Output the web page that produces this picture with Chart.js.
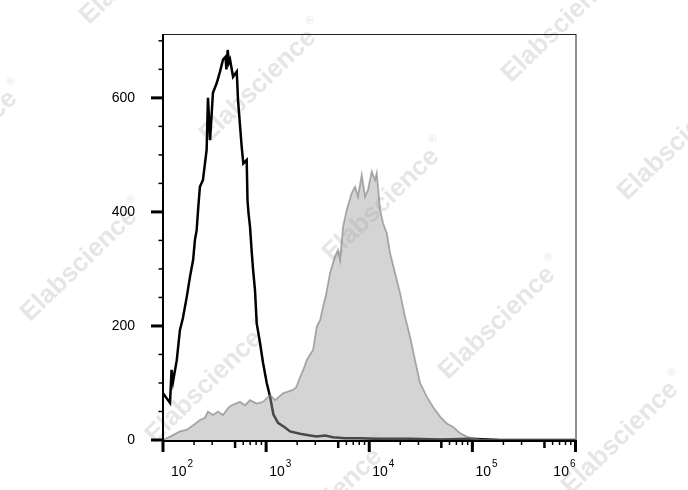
<!DOCTYPE html>
<html lang="en">

<head>
  <meta charset="UTF-8" />
  <title>Histogram</title>
  <style>
    body { margin: 0; background: #fff; }
    canvas { display: block; }
  </style>
</head>

<body>
  <canvas id="histChart" width="688" height="490"></canvas>

  <script src="https://cdn.jsdelivr.net/npm/chart.js"></script>
  <script>
    // black outline histogram (control)
    const controlX = [100, 117, 121, 125, 136, 146, 156, 170, 183, 196, 204, 212, 220, 228, 244, 265, 273, 286, 305, 332,
      357, 382, 404, 412, 424, 436, 447, 478, 519, 534, 579, 601, 648, 660, 675, 698, 725, 746, 780, 810,
      873, 934, 1014, 1092, 1175, 1304, 1524, 1706, 2132, 2666, 3096, 3724, 4457, 5822, 8147, 11650, 17780, 24890, 48640, 95060,
      185800, 1000000];
    const controlCount = [82, 65, 123, 102, 140, 193, 214, 251, 287, 316, 351, 368, 409, 444, 456, 509, 600, 526, 609, 626,
      646, 667, 672, 650, 684, 662, 667, 637, 646, 596, 515, 485, 491, 420, 398, 374, 330, 300, 263, 205,
      170, 135, 100, 76, 45, 30, 22, 15, 11, 8, 6, 8, 5, 3, 3, 2, 2, 2, 1, 2,
      0, 0];

    // grey filled histogram (stained)
    const stainedX = [100, 117, 146, 170, 196, 228, 255, 273, 305, 341, 382, 427, 463, 558, 624, 698, 810, 934, 1092, 1220,
      1458, 1706, 1825, 1951, 2132, 2312, 2477, 2666, 2853, 3096, 3336, 3567, 3813, 4169, 4659,
      4981, 5212, 5572, 6049, 6765, 7283, 7786, 8455, 9103, 9732, 10570, 11380, 11820, 12730, 13610, 14790, 15920, 17790, 19900, 22240,
      24880, 27810, 31100, 36120, 41590, 48640, 56470, 65030, 76040, 88330, 101600, 118900, 185800, 1000000];
    const stainedCount = [0, 6, 15, 18, 26, 35, 39, 50, 44, 50, 44, 56, 61, 67, 61, 70, 64, 67, 79, 70,
      82, 86, 88, 92, 110, 125, 140, 150, 158, 199, 210, 234, 255, 293, 322,
      333, 316, 374, 404, 433, 444, 427, 465, 427, 439, 471, 456, 468, 404, 380, 363, 328, 293, 258, 216,
      181, 140, 100, 76, 58, 41, 29, 23, 12, 6, 3, 1, 0, 0];

    // axis ticks
    const xDecades = [1e2, 1e3, 1e4, 1e5, 1e6];
    const xExponents = ['2', '3', '4', '5', '6'];
    const xMinor = [2, 3, 5, 6, 7, 8, 9];
    const yLabels = [0, 200, 400, 600];
    const yTicks = [0, 50, 100, 150, 200, 250, 300, 350, 400, 450, 500, 550, 600, 650, 700];

    const FONT = '"Liberation Sans", Arial, sans-serif';

    // where the faint watermark text sits
    const marks = [[138, -32], [258, 86], [381, 205], [497, 323], [620, 438],
      [-41, 147], [79, 265], [204, 387], [324, 505], [560, 26], [676, 144]];

    const axisPlugin = {
      id: 'axisPlugin',
      beforeDraw(chart) {
        const ctx = chart.ctx;
        marks.forEach(([cx, cy]) => {
          ctx.save();
          ctx.translate(cx, cy);
          ctx.rotate(-44 * Math.PI / 180);
          ctx.fillStyle = '#e6e6e6';
          ctx.font = 'bold 26px ' + FONT;
          ctx.textAlign = 'center';
          ctx.textBaseline = 'middle';
          ctx.fillText('Elabscience', 0, 0);
          const w = ctx.measureText('Elabscience').width;
          ctx.font = '11px ' + FONT;
          ctx.fillText('®', w / 2 + 8, -11);
          ctx.restore();
        });
      },
      afterDraw(chart) {
        const ctx = chart.ctx;
        const { left, right, top, bottom } = chart.chartArea;
        const xs = chart.scales.x;
        const ys = chart.scales.y;
        ctx.save();

        // frame
        ctx.strokeStyle = '#222';
        ctx.lineWidth = 1;
        ctx.strokeRect(left + 0.5, top + 0.5, right - left, bottom - top);
        ctx.strokeStyle = '#000';
        ctx.lineWidth = 2;
        ctx.beginPath();
        ctx.moveTo(left, top);
        ctx.lineTo(left, bottom + 1);
        ctx.lineTo(right, bottom + 1);
        ctx.stroke();

        // y tick marks
        yTicks.forEach(v => {
          const py = ys.getPixelForValue(v);
          const major = yLabels.includes(v);
          ctx.lineWidth = major ? 3 : 1.5;
          ctx.beginPath();
          ctx.moveTo(left - (major ? 12 : 4.5), py);
          ctx.lineTo(left, py);
          ctx.stroke();
        });

        // x tick marks
        xDecades.forEach((d, i) => {
          let px = xs.getPixelForValue(d);
          ctx.lineWidth = 3;
          ctx.beginPath();
          ctx.moveTo(px, bottom);
          ctx.lineTo(px, bottom + 12);
          ctx.stroke();
          if (i < xDecades.length - 1) {
            xMinor.forEach(m => {
              const mx = xs.getPixelForValue(d * m);
              ctx.lineWidth = m === 5 ? 2.5 : 1.5;
              ctx.beginPath();
              ctx.moveTo(mx, bottom);
              ctx.lineTo(mx, bottom + (m === 5 ? 8 : 5));
              ctx.stroke();
            });
          }

          // label 10^n
          ctx.fillStyle = '#000';
          ctx.textBaseline = 'alphabetic';
          ctx.textAlign = 'left';
          ctx.font = '14px ' + FONT;
          const baseW = ctx.measureText('10').width;
          ctx.font = '10px ' + FONT;
          const supW = ctx.measureText(xExponents[i]).width;
          let lx = px + 3;
          if (lx < left + 8) lx = left + 8;
          if (lx + baseW + supW + 1 > right) lx = right - baseW - supW - 1;
          ctx.font = '14px ' + FONT;
          ctx.fillText('10', lx, 476);
          ctx.font = '10px ' + FONT;
          ctx.fillText(xExponents[i], lx + baseW + 1, 467);
        });

        ctx.restore();
      }
    };

    const ctx = document.getElementById('histChart').getContext('2d');
    const histChart = new Chart(ctx, {
      type: 'line',
      data: {
        datasets: [
          {
            label: 'Stained',
            data: stainedX.map((x, i) => ({ x: x, y: stainedCount[i] })),
            borderColor: 'rgba(120, 120, 120, 0.6)',
            borderWidth: 1.8,
            backgroundColor: 'rgba(160, 160, 160, 0.45)',
            fill: 'origin',
            pointRadius: 0,
            tension: 0,
            order: 1
          },
          {
            label: 'Control',
            data: controlX.map((x, i) => ({ x: x, y: controlCount[i] })),
            borderColor: '#000',
            borderWidth: 2.5,
            fill: false,
            pointRadius: 0,
            tension: 0,
            order: 2
          }
        ]
      },
      options: {
        responsive: false,
        animation: false,
        devicePixelRatio: 1,
        layout: { padding: { left: 0, right: 112.5, top: 34, bottom: 0 } },
        plugins: {
          legend: { display: false },
          tooltip: { enabled: false }
        },
        scales: {
          x: {
            type: 'logarithmic',
            min: 100,
            max: 1e6,
            grid: { display: false },
            border: { display: false },
            ticks: { display: false },
            afterFit(scale) { scale.height = 50; }
          },
          y: {
            min: 0,
            max: 712,
            grid: { display: false },
            border: { display: false },
            ticks: {
              stepSize: 200,
              padding: 20,
              color: '#000',
              font: { family: FONT, size: 14 },
              callback: v => yLabels.includes(v) ? String(v) : ''
            },
            afterFit(scale) { scale.width = 163; }
          }
        }
      },
      plugins: [axisPlugin]
    });
  </script>
</body>

</html>
